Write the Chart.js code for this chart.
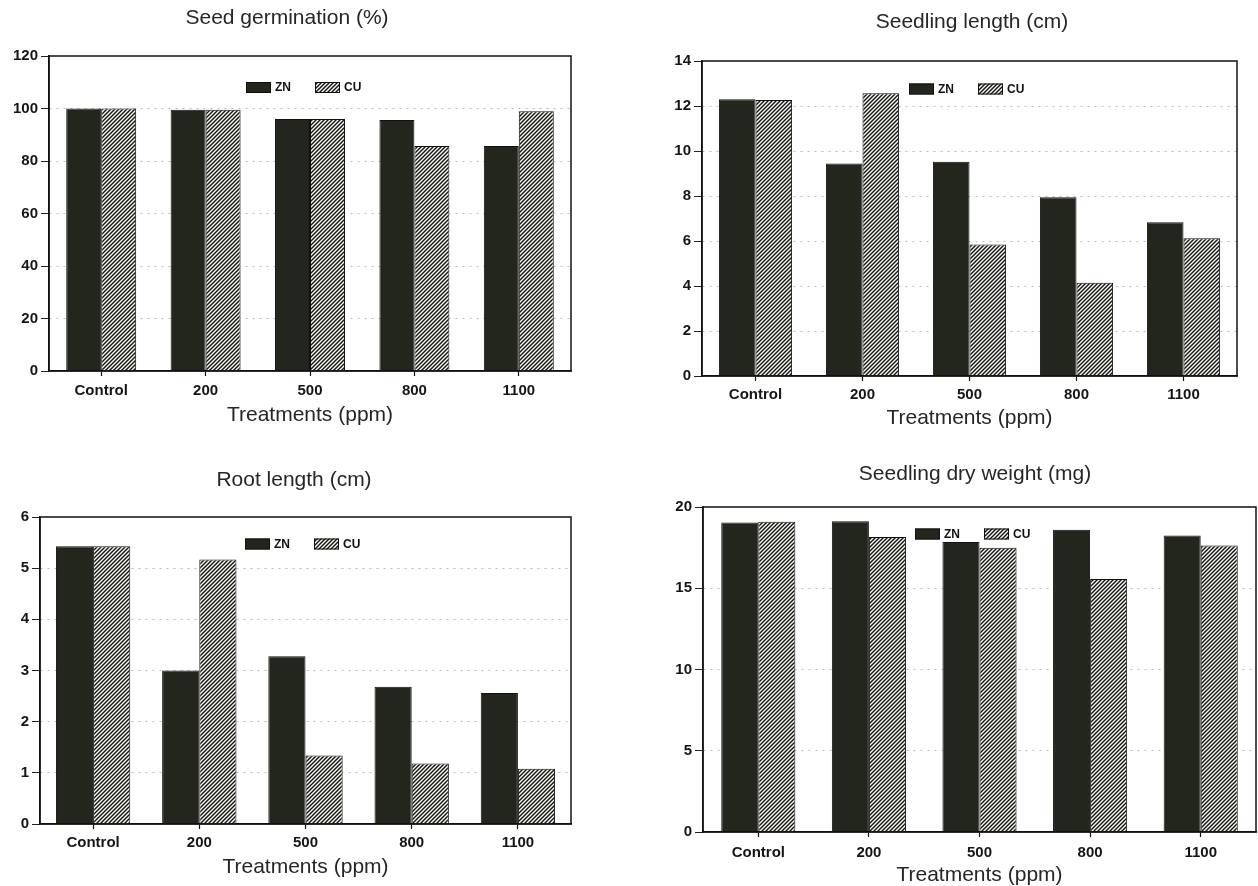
<!DOCTYPE html>
<html><head><meta charset="utf-8">
<script src="https://cdn.jsdelivr.net/npm/chart.js@4.4.0/dist/chart.umd.min.js"></script>
<style>
html,body{margin:0;padding:0;background:#fff;overflow:hidden;width:1258px;height:886px;position:relative}
.c{position:absolute}
</style></head><body>
<canvas id="c1" class="c" width="600" height="440" style="left:0;top:0"></canvas>
<canvas id="c2" class="c" width="629" height="440" style="left:629px;top:0"></canvas>
<canvas id="c3" class="c" width="629" height="446" style="left:0;top:440px"></canvas>
<canvas id="c4" class="c" width="629" height="448" style="left:629px;top:440px"></canvas>
<script>
// ---- data ----
const categories = ['Control', '200', '500', '800', '1100'];
const seriesNames = ['ZN', 'CU'];
const germZN = [100, 99.5, 96, 95.6, 85.7];
const germCU = [100, 99.5, 96, 85.7, 99];
const lenZN = [12.3, 9.45, 9.52, 7.94, 6.83];
const lenCU = [12.27, 12.57, 5.84, 4.14, 6.12];
const rootZN = [5.43, 3.0, 3.28, 2.68, 2.56];
const rootCU = [5.43, 5.17, 1.34, 1.18, 1.08];
const dryZN = [19.04, 19.13, 17.85, 18.6, 18.25];
const dryCU = [19.1, 18.16, 17.5, 15.57, 17.63];
const chartTitles = ['Seed germination (%)', 'Seedling length (cm)', 'Root length (cm)', 'Seedling dry weight (mg)'];
const xTitle = 'Treatments (ppm)';
const yMax = [120, 14, 6, 20];
const yStep = [20, 2, 1, 5];

const FAM = '"Liberation Sans", Arial, Helvetica, sans-serif';
const ZNCOLOR = '#23261d';

function hatch() {
  const p = document.createElement('canvas'); p.width = 4; p.height = 4;
  const g = p.getContext('2d');
  g.fillStyle = '#fbfbf8'; g.fillRect(0, 0, 4, 4);
  g.strokeStyle = '#161612'; g.lineWidth = 1.45;
  g.beginPath();
  g.moveTo(0, 4); g.lineTo(4, 0);
  g.moveTo(-1, 1); g.lineTo(1, -1);
  g.moveTo(3, 5); g.lineTo(5, 3);
  g.stroke();
  return g.createPattern(p, 'repeat');
}

const frame = {
  id: 'frame',
  afterDatasetsDraw(chart) {
    const {ctx, chartArea: a} = chart;
    ctx.save(); ctx.strokeStyle = '#111'; ctx.lineWidth = 1.5;
    ctx.strokeRect(a.left, a.top, a.right - a.left, a.bottom - a.top);
    ctx.restore();
  }
};
const ttl = {
  id: 'ttl',
  afterDraw(chart, args, o) {
    const ctx = chart.ctx; ctx.save();
    ctx.font = '21px ' + FAM; ctx.fillStyle = '#262626';
    ctx.textAlign = 'center'; ctx.textBaseline = 'middle';
    ctx.fillText(o.text, o.x, o.y); ctx.restore();
  }
};
const lgd = {
  id: 'lgd',
  afterDatasetsDraw(chart, args, o) {
    const ctx = chart.ctx; ctx.save();
    ctx.font = 'bold 12px ' + FAM; ctx.textBaseline = 'middle'; ctx.textAlign = 'left';
    let x = o.x;
    chart.data.datasets.forEach(ds => {
      ctx.fillStyle = ds.backgroundColor;
      ctx.fillRect(x, o.y - 5.5, 25, 11);
      ctx.strokeStyle = '#111'; ctx.lineWidth = 1;
      ctx.strokeRect(x + 0.5, o.y - 5, 24, 10);
      x += 29;
      ctx.fillStyle = '#111';
      ctx.fillText(ds.label, x, o.y + 0.5);
      x += ctx.measureText(ds.label).width + o.gap;
    });
    ctx.restore();
  }
};

function makeChart(id, zn, cu, i, L) {
  const max = yMax[i];
  new Chart(document.getElementById(id), {
    type: 'bar',
    data: {
      labels: categories,
      datasets: [
        {label: seriesNames[0], data: zn, backgroundColor: ZNCOLOR, borderColor: '#111', borderWidth: 1},
        {label: seriesNames[1], data: cu, backgroundColor: hatch(), borderColor: '#111', borderWidth: 1}
      ]
    },
    options: {
      responsive: false, animation: false, events: [],
      layout: {padding: L.pad},
      datasets: {bar: {categoryPercentage: L.cat, barPercentage: 1}},
      plugins: {
        legend: {display: false}, tooltip: {enabled: false}, title: {display: false},
        ttl: {text: chartTitles[i], x: L.tx, y: L.ty},
        lgd: {x: L.lx, y: L.ly, gap: 24}
      },
      scales: {
        x: {
          grid: {display: true, drawOnChartArea: false, drawTicks: true, tickLength: 5, offset: false, tickColor: '#111', tickWidth: 1.2},
          border: {display: true, color: '#111', width: 1.5},
          ticks: {font: {family: FAM, size: 15, weight: 'bold'}, color: '#151515', padding: L.xpad, maxRotation: 0, autoSkip: false},
          title: {display: true, text: xTitle, font: {family: FAM, size: 21}, color: '#262626', padding: {top: 0, bottom: 0}},
          afterFit: s => { s.height = L.xh; }
        },
        y: {
          min: 0, max: max,
          ticks: {stepSize: yStep[i], font: {family: FAM, size: 15, weight: 'bold'}, color: '#151515', padding: 3},
          grid: {
            color: c => (c.tick && (c.tick.value === 0 || c.tick.value === max)) ? 'rgba(0,0,0,0)' : 'rgba(80,80,80,0.4)',
            lineWidth: 1, tickLength: 8, tickColor: '#222', tickWidth: 1, tickBorderDash: []
          },
          border: {display: true, color: '#111', width: 1.5, dash: [2, 5]},
          afterFit: s => { s.width = L.yw; }
        }
      }
    },
    plugins: [frame, ttl, lgd]
  });
}

makeChart('c1', germZN, germCU, 0, {pad: {left: 9, right: 29, top: 56, bottom: 12}, yw: 40, xh: 57, xpad: 6, cat: 0.67, tx: 287, ty: 18, lx: 246, ly: 87.5});
makeChart('c2', lenZN, lenCU, 1, {pad: {left: 33, right: 21, top: 61, bottom: 9}, yw: 40, xh: 55, xpad: 5, cat: 0.684, tx: 343, ty: 22, lx: 280, ly: 89});
makeChart('c3', rootZN, rootCU, 2, {pad: {left: 8, right: 58, top: 77, bottom: 6}, yw: 32, xh: 56, xpad: 5, cat: 0.70, tx: 294, ty: 40, lx: 245, ly: 104});
makeChart('c4', dryZN, dryCU, 3, {pad: {left: 34, right: 2, top: 67, bottom: 0}, yw: 40, xh: 56, xpad: 7, cat: 0.67, tx: 346, ty: 34, lx: 286, ly: 94});
</script>
</body></html>
